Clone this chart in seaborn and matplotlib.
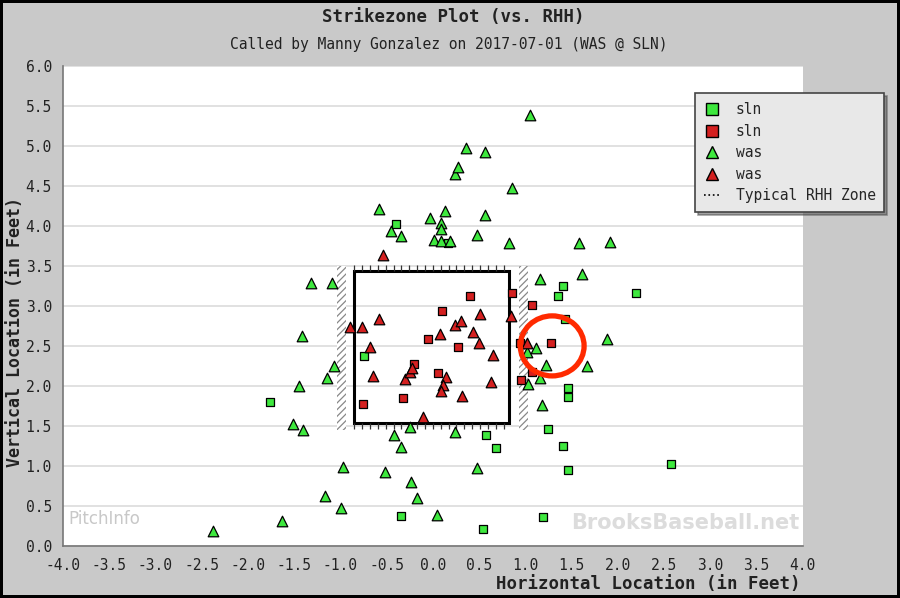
import numpy as np
import pandas as pd
import seaborn as sns
import matplotlib
matplotlib.use("Agg")
import matplotlib.pyplot as plt
from matplotlib.patches import Rectangle, Ellipse
from matplotlib.lines import Line2D
from matplotlib.ticker import MultipleLocator

# pitch locations (feet)
sln_ball_x = [-0.40, 0.16, -0.75, -1.76, 1.41, 1.35, 2.20, 1.43, 1.46, 1.46,
              1.24, 0.57, 0.68, 1.41, 1.46, 2.57, 1.19, 0.54, -0.35]
sln_ball_y = [4.02, 3.79, 2.37, 1.80, 3.25, 3.12, 3.16, 2.83, 1.98, 1.86,
              1.46, 1.39, 1.22, 1.25, 0.95, 1.02, 0.36, 0.21, 0.38]

sln_strike_x = [0.40, 0.86, 1.07, 0.10, -0.05, 0.27, -0.20, 0.05, -0.32, -0.76,
                0.94, 1.28, 1.07, 0.95]
sln_strike_y = [3.12, 3.16, 3.01, 2.93, 2.59, 2.48, 2.27, 2.16, 1.85, 1.77,
                2.53, 2.54, 2.18, 2.07]

was_ball_x = [-2.38, -1.63, -1.51, -1.40, -1.45, -1.42, -1.32, -1.09, -1.14, -1.07,
              -1.17, -0.99, -0.97, -0.58, -0.45, -0.34, -0.52, -0.42, -0.34, -0.24,
              -0.17, -0.25, 0.04, -0.03, 0.13, 0.09, 0.09, 0.01, 0.09, 0.19,
              0.24, 0.48, 0.24, 0.27, 0.36, 0.56, 0.56, 0.48, 0.85, 0.82,
              1.05, 1.16, 1.61, 1.58, 1.91, 1.12, 1.02, 1.88, 1.22, 1.67,
              1.16, 1.03, 1.18]
was_ball_y = [0.19, 0.31, 1.52, 1.45, 2.00, 2.62, 3.28, 3.28, 2.10, 2.25,
              0.62, 0.48, 0.99, 4.21, 3.94, 3.87, 0.92, 1.39, 1.24, 0.80,
              0.60, 1.49, 0.39, 4.10, 4.18, 4.04, 3.96, 3.82, 3.81, 3.81,
              1.43, 0.98, 4.65, 4.74, 4.97, 4.92, 4.13, 3.88, 4.47, 3.78,
              5.39, 3.34, 3.40, 3.78, 3.80, 2.47, 2.42, 2.58, 2.26, 2.25,
              2.10, 2.03, 1.76]

was_strike_x = [-0.90, -0.77, -0.58, -0.68, -0.65, -0.30, -0.25, -0.23, 0.08, 0.24,
                0.30, 0.51, 0.43, 0.50, 0.65, 0.84, 0.14, 0.11, 0.09, 0.32,
                0.63, -0.11, -0.54, 1.02]
was_strike_y = [2.73, 2.73, 2.83, 2.48, 2.12, 2.09, 2.18, 2.23, 2.65, 2.76,
                2.81, 2.90, 2.67, 2.53, 2.38, 2.87, 2.11, 2.01, 1.94, 1.88,
                2.05, 1.61, 3.63, 2.54]

zone_left, zone_right, zone_bottom, zone_top = -0.85, 0.82, 1.54, 3.43

green = "#3ee83e"
red = "#d42020"
mono = "DejaVu Sans Mono"

sns.set_style("white")
plt.rcParams["font.family"] = [mono]
plt.rcParams["hatch.linewidth"] = 0.9
plt.rcParams["hatch.color"] = "#888888"

groups = [
    ("sln", "ball", sln_ball_x, sln_ball_y, green, "s", 30),
    ("sln", "strike", sln_strike_x, sln_strike_y, red, "s", 30),
    ("was", "ball", was_ball_x, was_ball_y, green, "^", 58),
    ("was", "strike", was_strike_x, was_strike_y, red, "^", 58),
]
pitches = pd.concat([pd.DataFrame({"px": xs, "pz": ys, "team": t, "call": c})
                     for t, c, xs, ys, *_ in groups], ignore_index=True)

fig = plt.figure(figsize=(9, 5.98), dpi=100)
fig.patch.set_facecolor("#c9c9c9")
fig.patch.set_edgecolor("black")
fig.patch.set_linewidth(3)
ax = fig.add_axes([0.07, 0.087, 0.822, 0.803])
ax.set_facecolor("white")

# strike zone with hatched shadow bands
for x0 in (-1.04, 0.93):
    ax.add_patch(Rectangle((x0, 1.45), 0.1, 2.05, facecolor="white",
                           edgecolor="#888888", hatch="/////", lw=0, zorder=1))
ax.add_patch(Rectangle((zone_left, zone_bottom), zone_right - zone_left,
                       zone_top - zone_bottom, fill=False, ec="black", lw=2.2, zorder=2))
tick_x = np.arange(zone_left, zone_right + 0.01, 0.085)
ax.plot(tick_x, np.full(len(tick_x), zone_top + 0.04), ls="none", marker="|",
        ms=4, color="#333333", mew=0.9, zorder=2)
ax.plot(tick_x, np.full(len(tick_x), zone_bottom - 0.04), ls="none", marker="|",
        ms=4, color="#333333", mew=0.9, zorder=2)

for t, c, xs, ys, col, mk, size in groups:
    sub = pitches[(pitches.team == t) & (pitches.call == c)]
    sns.scatterplot(data=sub, x="px", y="pz", color=col, marker=mk, s=size,
                    edgecolor="black", linewidth=0.9, ax=ax, zorder=3, legend=False)

ax.add_patch(Ellipse((1.29, 2.50), 0.69, 0.75, fill=False, ec="#ff2a00", lw=3.8, zorder=5))

ax.set_xlim(-4, 4)
ax.set_ylim(0, 6)
ax.xaxis.set_major_locator(MultipleLocator(0.5))
ax.xaxis.set_minor_locator(MultipleLocator(0.1))
ax.yaxis.set_major_locator(MultipleLocator(0.5))
ax.xaxis.set_major_formatter(lambda v, p: f"{v:.1f}")
ax.yaxis.set_major_formatter(lambda v, p: f"{v:.1f}")
ax.tick_params(axis="x", which="major", direction="in", length=8, width=1,
               color="#555555", labelsize=10.5, labelcolor="#222222", pad=9)
ax.tick_params(axis="x", which="minor", direction="in", length=4, width=0.8, color="#555555")
ax.tick_params(axis="y", which="major", direction="in", length=5, width=1,
               color="#555555", labelsize=10.5, labelcolor="#222222", pad=8)
ax.yaxis.grid(True, color="#dedede", lw=1.3)
ax.xaxis.grid(False)
ax.set_axisbelow(True)
for s in ("top", "right"):
    ax.spines[s].set_visible(False)
for s in ("bottom", "left"):
    ax.spines[s].set_color("#777777")
    ax.spines[s].set_linewidth(1.2)
ax.set_xlabel("")
ax.set_ylabel("")

# watermarks
ax.text(0.007, 0.045, "PitchInfo", transform=ax.transAxes, fontsize=12,
        color="#c8c8c8", family="DejaVu Sans", zorder=0)
ax.text(0.995, 0.035, "BrooksBaseball.net", transform=ax.transAxes, ha="right",
        fontsize=15, fontweight="bold", color="#dcdcdc", family="DejaVu Sans", zorder=0)

fig.text(0.504, 0.971, "Strikezone Plot (vs. RHH)", ha="center", va="center",
         fontsize=12.5, fontweight="bold", color="#222222")
fig.text(0.499, 0.925, "Called by Manny Gonzalez on 2017-07-01 (WAS @ SLN)",
         ha="center", va="center", fontsize=10.5, color="#222222")
fig.text(0.889, 0.023, "Horizontal Location (in Feet)", ha="right", va="center",
         fontsize=12.5, fontweight="bold", color="#222222")
fig.text(0.017, 0.445, "Vertical Location (in Feet)", ha="center", va="center",
         rotation=90, fontsize=12, fontweight="bold", color="#222222")

handles = [
    Line2D([], [], ls="none", marker="s", ms=8, mfc=green, mec="black"),
    Line2D([], [], ls="none", marker="s", ms=8, mfc=red, mec="black"),
    Line2D([], [], ls="none", marker="^", ms=9, mfc=green, mec="black"),
    Line2D([], [], ls="none", marker="^", ms=9, mfc=red, mec="black"),
    Line2D([], [], ls=":", color="black", lw=1.2),
]
labels = ["sln", "sln", "was", "was", "Typical RHH Zone"]
leg = ax.legend(handles, labels, loc="upper left", bbox_to_anchor=(0.764, 0.856),
                bbox_transform=fig.transFigure, frameon=True, fancybox=False,
                shadow=True, facecolor="#e8e8e8", edgecolor="#444444",
                prop={"family": mono, "size": 10.5}, handlelength=1.2,
                labelspacing=0.45, borderpad=0.6, handletextpad=1.0)
leg.get_frame().set_linewidth(1.2)
leg.set_zorder(10)

fig.savefig("out.png", dpi=100, facecolor=fig.get_facecolor(), edgecolor="black")
